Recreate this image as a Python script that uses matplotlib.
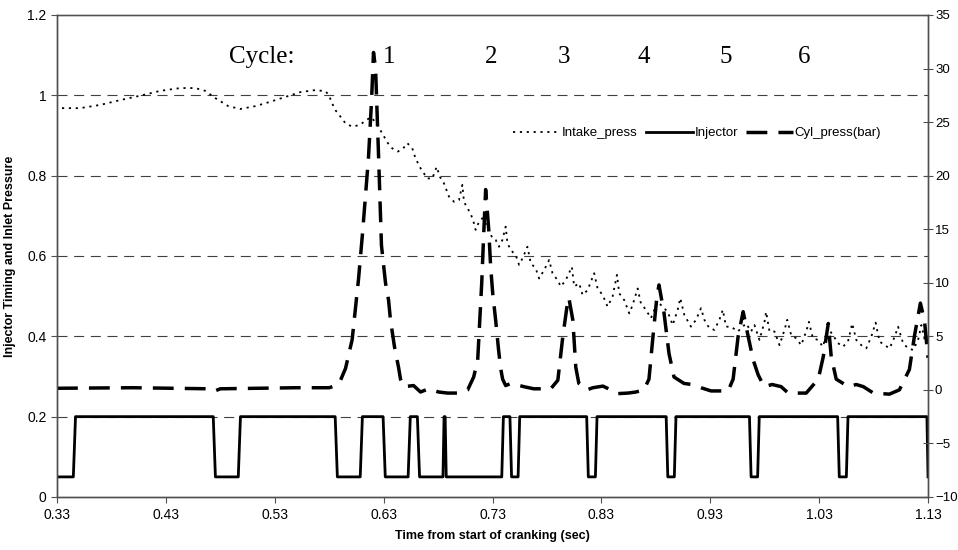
import numpy as np
import matplotlib
matplotlib.use("Agg")
import matplotlib.pyplot as plt

plt.rcParams['font.family'] = ['Liberation Sans', 'DejaVu Sans']

# Intake manifold pressure (left axis, normalised)
intake_t = [0.3346, 0.3512, 0.3696, 0.3880, 0.4064, 0.4248, 0.4432, 0.4570, 0.4662, 0.4754,
            0.4873, 0.4984, 0.5122, 0.5260, 0.5398, 0.5536, 0.5674, 0.5766, 0.5796, 0.5827,
            0.5857, 0.5903, 0.5950, 0.6011, 0.6081, 0.6143, 0.6186, 0.6235, 0.6287, 0.6339,
            0.6379, 0.6431, 0.6480, 0.6517, 0.6563, 0.6593, 0.6640, 0.6701, 0.6747, 0.6787,
            0.6817, 0.6854, 0.6900, 0.6946, 0.6992, 0.7023, 0.7038, 0.7069, 0.7099, 0.7130,
            0.7145, 0.7176, 0.7207, 0.7253, 0.7299, 0.7329, 0.7360, 0.7391, 0.7421, 0.7437,
            0.7467, 0.7513, 0.7544, 0.7575, 0.7621, 0.7651, 0.7697, 0.7728, 0.7774, 0.7820,
            0.7851, 0.7897, 0.7927, 0.7973, 0.8029, 0.8050, 0.8096, 0.8127, 0.8173, 0.8234,
            0.8265, 0.8311, 0.8357, 0.8403, 0.8443, 0.8464, 0.8510, 0.8556, 0.8587, 0.8633,
            0.8663, 0.8709, 0.8755, 0.8817, 0.8909, 0.8955, 0.9001, 0.9025, 0.9062, 0.9123,
            0.9169, 0.9215, 0.9246, 0.9292, 0.9338, 0.9384, 0.9415, 0.9445, 0.9491, 0.9553,
            0.9629, 0.9675, 0.9706, 0.9752, 0.9798, 0.9813, 0.9844, 0.9890, 0.9936, 0.9982,
            1.0007, 1.0043, 1.0089, 1.0135, 1.0181, 1.0206, 1.0243, 1.0289, 1.0335, 1.0381,
            1.0427, 1.0473, 1.0519, 1.0565, 1.0604, 1.0641, 1.0687, 1.0733, 1.0779, 1.0819,
            1.0855, 1.0901, 1.0947, 1.0994, 1.1025, 1.1071, 1.1117, 1.1163, 1.1209, 1.1239,
            1.1270, 1.1300]
intake_p = [0.968, 0.968, 0.976, 0.988, 0.999, 1.011, 1.018, 1.018, 1.011, 0.993,
            0.973, 0.966, 0.973, 0.984, 0.996, 1.008, 1.013, 1.010, 1.001, 0.980,
            0.963, 0.947, 0.930, 0.922, 0.926, 0.939, 0.945, 0.930, 0.905, 0.881,
            0.868, 0.860, 0.868, 0.881, 0.868, 0.843, 0.818, 0.793, 0.793, 0.822,
            0.797, 0.781, 0.748, 0.735, 0.739, 0.777, 0.735, 0.719, 0.706, 0.681,
            0.665, 0.685, 0.694, 0.673, 0.644, 0.640, 0.623, 0.640, 0.673, 0.632,
            0.615, 0.602, 0.578, 0.594, 0.623, 0.582, 0.569, 0.544, 0.565, 0.590,
            0.557, 0.540, 0.524, 0.540, 0.573, 0.524, 0.532, 0.503, 0.515, 0.557,
            0.519, 0.503, 0.474, 0.499, 0.553, 0.507, 0.490, 0.457, 0.478, 0.519,
            0.482, 0.466, 0.445, 0.486, 0.461, 0.428, 0.466, 0.495, 0.453, 0.424,
            0.441, 0.470, 0.441, 0.420, 0.416, 0.441, 0.466, 0.424, 0.424, 0.412,
            0.432, 0.412, 0.428, 0.391, 0.436, 0.461, 0.412, 0.412, 0.378, 0.416,
            0.441, 0.403, 0.395, 0.378, 0.412, 0.436, 0.395, 0.391, 0.374, 0.420,
            0.403, 0.383, 0.374, 0.387, 0.432, 0.391, 0.378, 0.370, 0.399, 0.434,
            0.387, 0.378, 0.370, 0.399, 0.424, 0.383, 0.370, 0.366, 0.391, 0.428,
            0.391, 0.383]

# Injector command signal (left axis): 0.05 = off, 0.2 = on
inj_t = [0.330, 0.345, 0.347, 0.4735, 0.4755, 0.4965, 0.4985, 0.5855, 0.5875, 0.6085,
         0.6105, 0.6295, 0.6315, 0.6525, 0.6545, 0.6610, 0.6630, 0.6845, 0.6855, 0.6865,
         0.6875, 0.7385, 0.7400, 0.7460, 0.7475, 0.7535, 0.7550, 0.8165, 0.8180, 0.8245,
         0.8260, 0.8895, 0.8910, 0.8970, 0.8985, 0.9660, 0.9675, 0.9735, 0.9750, 1.0470,
         1.0485, 1.0550, 1.0565, 1.1290, 1.1300]
inj_v = [0.05, 0.05, 0.2, 0.2, 0.05, 0.05, 0.2, 0.2, 0.05, 0.05,
         0.2, 0.2, 0.05, 0.05, 0.2, 0.2, 0.05, 0.05, 0.2, 0.2,
         0.05, 0.05, 0.2, 0.2, 0.05, 0.05, 0.2, 0.2, 0.05, 0.05,
         0.2, 0.2, 0.05, 0.05, 0.2, 0.2, 0.05, 0.05, 0.2, 0.2,
         0.05, 0.05, 0.2, 0.2, 0.05]

# Cylinder pressure in bar (right axis)
cyl_t = [0.330, 0.400, 0.470, 0.475, 0.480, 0.550, 0.5800, 0.5860, 0.5904, 0.5950,
         0.6011, 0.6069, 0.6106, 0.6161, 0.6189, 0.6207, 0.6226, 0.6253, 0.6280, 0.6317,
         0.6345, 0.6363, 0.6400, 0.6437, 0.6455, 0.6483, 0.6575, 0.6639, 0.6713, 0.6805,
         0.6888, 0.6980, 0.7072, 0.7127, 0.7164, 0.7201, 0.7219, 0.7237, 0.7265, 0.7283,
         0.7302, 0.7329, 0.7356, 0.7375, 0.7393, 0.7421, 0.7467, 0.7513, 0.7587, 0.7679,
         0.7835, 0.7900, 0.7946, 0.7983, 0.8001, 0.8038, 0.8065, 0.8093, 0.8130, 0.8167,
         0.8222, 0.8314, 0.8387, 0.8452, 0.8544, 0.8617, 0.8691, 0.8737, 0.8774, 0.8810,
         0.8829, 0.8875, 0.8921, 0.8967, 0.9059, 0.9133, 0.9215, 0.9307, 0.9464, 0.9510,
         0.9556, 0.9602, 0.9648, 0.9694, 0.9740, 0.9795, 0.9868, 0.9951, 1.0016, 1.0181,
         1.0292, 1.0338, 1.0384, 1.0411, 1.0457, 1.0568, 1.0641, 1.0706, 1.0798, 1.0945,
         1.1037, 1.1129, 1.1175, 1.1230, 1.1267, 1.1300]
cyl_p = [0.15, 0.2, 0.1, -0.1, 0.1, 0.2, 0.2, 0.4, 0.9, 2.0,
         4.7, 10.3, 14.6, 21.7, 27.0, 31.5, 30.0, 22.0, 13.5, 10.0,
         8.4, 6.5, 4.0, 2.1, 1.0, 0.3, 0.4, -0.2, 0.1, -0.2,
         -0.3, -0.3, 0.0, 1.2, 2.8, 10.0, 14.5, 18.7, 15.0, 11.5,
         9.0, 6.5, 3.7, 2.0, 1.0, 0.4, 0.6, 0.5, 0.3, 0.1,
         0.1, 0.9, 5.0, 7.7, 8.6, 6.5, 2.1, 0.6, 0.3, 0.0,
         0.2, 0.35, 0.0, -0.35, -0.3, -0.2, 0.0, 1.0, 5.0, 8.7,
         9.8, 7.2, 3.4, 1.2, 0.6, 0.5, 0.2, -0.1, -0.1, 1.0,
         5.0, 7.3, 5.0, 2.8, 1.4, 0.3, 0.5, 0.3, -0.3, -0.3,
         1.0, 3.1, 6.2, 3.1, 1.0, 0.3, 0.5, 0.3, -0.3, -0.4,
         0.0, 1.9, 5.0, 8.1, 6.5, 3.0]

cycle_labels = ['1', '2', '3', '4', '5', '6']
cycle_x = [0.6354, 0.7283, 0.7955, 0.8691, 0.9445, 1.0163]

x_ticks = [0.33, 0.43, 0.53, 0.63, 0.73, 0.83, 0.93, 1.03, 1.13]
left_ticks = [0, 0.2, 0.4, 0.6, 0.8, 1.0, 1.2]
right_ticks = [-10, -5, 0, 5, 10, 15, 20, 25, 30, 35]

spine_col = '#505050'

fig = plt.figure(figsize=(9.58, 5.50), dpi=100)
ax = fig.add_axes([0.0595, 0.0964, 0.9092, 0.8764])
ax2 = ax.twinx()

l1, = ax.plot(intake_t, intake_p, color='black', lw=1.3, linestyle=(0, (1.2, 2.6)),
              label='Intake_press')
l2, = ax.plot(inj_t, inj_v, color='black', lw=2.0, label='Injector')
l3, = ax2.plot(cyl_t, cyl_p, color='black', lw=2.5, linestyle=(0, (6, 3.2)),
               label='Cyl_press(bar)')

ax.set_xlim(0.33, 1.13)
ax.set_ylim(0, 1.2)
ax2.set_ylim(-10, 35)
ax.set_xticks(x_ticks)
ax.set_xticklabels(['%.2f' % v for v in x_ticks])
ax.set_yticks(left_ticks)
ax.set_yticklabels(['0', '0.2', '0.4', '0.6', '0.8', '1', '1.2'])
ax2.set_yticks(right_ticks)

# dashed horizontal gridlines at the inner left-axis ticks
for g in left_ticks[1:-1]:
    ax.axhline(g, color='#404040', lw=0.8, linestyle=(0, (9, 6)), zorder=0.5)

for a in (ax, ax2):
    for s in a.spines.values():
        s.set_color(spine_col)
        s.set_linewidth(1.0)
ax.spines['top'].set_color('#808080')

ax.tick_params(axis='both', labelsize=10, colors=spine_col, labelcolor='black',
               length=4, direction='out')
ax.tick_params(axis='x', pad=4)
ax2.tick_params(axis='y', labelsize=9.5, colors=spine_col, labelcolor='black',
                length=7, direction='inout', pad=1.5)

ax.set_xlabel('Time from start of cranking (sec)', fontsize=9, fontweight='bold',
              labelpad=6)
ax.set_ylabel('Injector Timing and Inlet Pressure', fontsize=9, fontweight='bold',
              labelpad=8)

serif = ['Liberation Serif', 'DejaVu Serif']
ax.text(0.5177, 1.095, 'Cycle:', fontsize=18, family=serif, ha='center', va='center')
for lab, xc in zip(cycle_labels, cycle_x):
    ax.text(xc, 1.095, lab, fontsize=18, family=serif, ha='center', va='center')

ax.legend(handles=[l1, l2, l3], loc='center', bbox_to_anchor=(0.735, 0.755), ncol=3,
          frameon=False, fontsize=9.5, handlelength=3.6, handletextpad=0.1,
          columnspacing=0.6)

fig.savefig('out.png', dpi=100)
